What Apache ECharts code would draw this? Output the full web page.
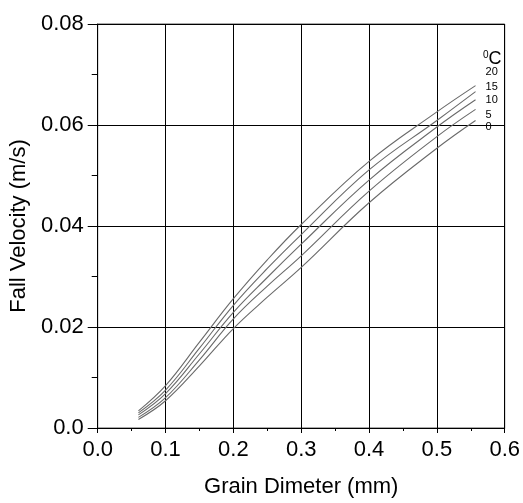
<!DOCTYPE html>
<html>
<head>
<meta charset="utf-8">
<script src="https://cdn.jsdelivr.net/npm/echarts@6/dist/echarts.min.js"></script>
<style>html,body{margin:0;padding:0;background:#fff;}#c{width:523px;height:503px;}</style>
</head>
<body>
<div id="c"></div>
<script>
var diameters = [0.06, 0.1, 0.15, 0.2, 0.25, 0.3, 0.4, 0.5, 0.557];
var temps = ['20', '15', '10', '5', '0'];
var v20 = [0.0034, 0.0084, 0.0170, 0.0256, 0.0333, 0.0403, 0.0528, 0.0626, 0.0678];
var v15 = [0.0030, 0.0075, 0.0158, 0.0243, 0.0316, 0.0383, 0.0511, 0.0609, 0.0666];
var v10 = [0.0026, 0.0068, 0.0147, 0.0229, 0.0298, 0.0364, 0.0491, 0.0596, 0.0650];
var v5  = [0.0021, 0.0060, 0.0135, 0.0216, 0.0281, 0.0341, 0.0469, 0.0577, 0.0631];
var v0  = [0.0017, 0.0054, 0.0123, 0.0197, 0.0259, 0.0318, 0.0446, 0.0554, 0.0609];
var xTicks = ['0.0', '0.1', '0.2', '0.3', '0.4', '0.5', '0.6'];
var yTicks = ['0.0', '0.02', '0.04', '0.06', '0.08'];

var allValues = [v20, v15, v10, v5, v0];
var labelDy = [-14, -5, 0, 6, 7];

var font = '"Liberation Sans", Arial, sans-serif';
var chart = echarts.init(document.getElementById('c'), null, {renderer: 'canvas'});

var series = allValues.map(function (vals, i) {
  return {
    type: 'line',
    name: temps[i],
    data: diameters.map(function (d, j) { return [d, vals[j]]; }),
    smooth: 0.4,
    showSymbol: false,
    lineStyle: {color: '#6a6a6a', width: 1.1},
    z: 3,
    endLabel: {
      show: true,
      formatter: temps[i],
      fontFamily: font,
      fontSize: 11,
      color: '#000',
      distance: 10,
      offset: [0, labelDy[i]]
    }
  };
});

chart.setOption({
  animation: false,
  backgroundColor: '#fff',
  grid: {left: 97, right: 18, top: 24, bottom: 71, show: true, borderColor: '#555', borderWidth: 1},
  title: {
    text: '{s|0}{c|C}',
    left: 478,
    top: 45,
    textStyle: {
      fontWeight: 'normal',
      rich: {
        s: {fontFamily: font, fontSize: 10, fontWeight: 'normal', color: '#000', verticalAlign: 'top', padding: [0, 0, 8, 0]},
        c: {fontFamily: font, fontSize: 18, fontWeight: 'normal', color: '#000'}
      }
    }
  },
  xAxis: {
    type: 'value',
    min: 0, max: 0.6, interval: 0.1,
    name: 'Grain Dimeter (mm)',
    nameLocation: 'middle',
    nameGap: 48,
    nameTextStyle: {fontFamily: font, fontSize: 22, color: '#000'},
    axisLine: {show: true, lineStyle: {color: '#000', width: 1}},
    axisTick: {show: true, inside: false, length: 5, lineStyle: {color: '#000'}},
    minorTick: {show: true, splitNumber: 2, length: 3, lineStyle: {color: '#000'}},
    splitLine: {show: true, lineStyle: {color: '#000', width: 1}},
    axisLabel: {
      margin: 11,
      fontFamily: font, fontSize: 22, color: '#000',
      formatter: function (v) { return xTicks[Math.round(v * 10)]; }
    }
  },
  yAxis: {
    type: 'value',
    min: 0, max: 0.08, interval: 0.02,
    name: 'Fall Velocity (m/s)',
    nameLocation: 'middle',
    nameGap: 61,
    nameRotate: 90,
    nameTextStyle: {fontFamily: font, fontSize: 22, color: '#000'},
    axisLine: {show: true, lineStyle: {color: '#000', width: 1}},
    axisTick: {show: true, inside: false, length: 10, lineStyle: {color: '#000'}},
    minorTick: {show: true, splitNumber: 2, length: 6, lineStyle: {color: '#000'}},
    splitLine: {show: true, lineStyle: {color: '#000', width: 1}},
    axisLabel: {
      margin: 14,
      fontFamily: font, fontSize: 22, color: '#000',
      formatter: function (v) { return yTicks[Math.round(v / 0.02)]; }
    }
  },
  series: series
});
</script>
</body>
</html>
